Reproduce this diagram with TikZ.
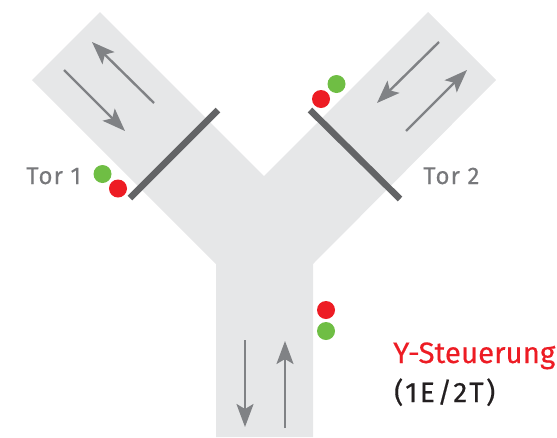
\documentclass[tikz,border=0pt]{standalone}
\usepackage{fontspec}
\setmainfont{Fira Sans}
\newfontfamily\gatefont[LetterSpace=5,FakeBold=0.2]{Fira Sans}
\newfontfamily\titlefont[FakeBold=0.4]{Fira Sans}
\newfontfamily\subfont[LetterSpace=9,FakeBold=0.4]{Fira Sans}
\usetikzlibrary{arrows.meta}
\definecolor{wayfill}{HTML}{E6E7E8}
\definecolor{flowgray}{HTML}{808285}
\definecolor{bargray}{HTML}{636466}
\definecolor{labelgray}{HTML}{77787B}
\definecolor{lampred}{HTML}{ED1C24}
\definecolor{lampgreen}{HTML}{6FBE44}
\definecolor{titleblack}{HTML}{231F20}
\begin{document}
\begin{tikzpicture}[
            x = 1pt,
            y = -1pt,
            > = {Stealth[length=23pt, width=17pt, inset=5pt]}, % arrow head style
            flow/.style = {->, draw = flowgray, line width = 2.4pt},
            bar/.style = {draw = bargray, line width = 6.5pt},
            lamp/.style = {circle, inner sep = 0pt, minimum size = 18pt}
        ]

        \tikzstyle{red lamp}=[lamp, fill = lampred]
        \tikzstyle{green lamp}=[lamp, fill = lampgreen]
        \tikzstyle{gate label}=[text = labelgray, font = \gatefont\fontsize{24}{27}\selectfont, inner sep = 0pt]

        \useasboundingbox (0,0) rectangle (557,437);

        % the Y shaped road
        \fill[wayfill] (216,437) -- (216,264) -- (32,80) -- (100,12) -- (264,176)
            -- (428,12) -- (496,80) -- (313,264) -- (313,437) -- cycle;

        % gates
        \coordinate (b1a) at (130,198);
        \coordinate (b1b) at (218,110);
        \coordinate (b2a) at (310,110);
        \coordinate (b2b) at (400,199);
        \draw[bar] (b1a) -- (b1b);
        \draw[bar] (b2a) -- (b2b);

        % flow arrows
        \coordinate (a1) at (154,103);
        \coordinate (a2) at (92,42);
        \coordinate (a3) at (64,70);
        \coordinate (a4) at (125,131);
        \coordinate (a5) at (439,42);
        \coordinate (a6) at (377,103);
        \coordinate (a7) at (406,131);
        \coordinate (a8) at (467,70);
        \coordinate (a9) at (245,340);
        \coordinate (a10) at (245,427);
        \coordinate (a11) at (285,428);
        \coordinate (a12) at (285,341);
        \draw[flow] (a1) -- (a2);
        \draw[flow] (a3) -- (a4);
        \draw[flow] (a5) -- (a6);
        \draw[flow] (a7) -- (a8);
        \draw[flow] (a9) -- (a10);
        \draw[flow] (a11) -- (a12);

        % signal lamps
        \node[green lamp] (g1) at (102.5,174) {};
        \node[red lamp] (r1) at (118,188.5) {};
        \node[green lamp] (g2) at (336.5,84) {};
        \node[red lamp] (r2) at (321,99) {};
        \node[red lamp] (r3) at (326,310) {};
        \node[green lamp] (g3) at (326,331) {};

        % labels
        \node[gate label, anchor = base west] (t1) at (26,184) {Tor 1};
        \node[gate label, anchor = base west] (t2) at (423,184) {Tor 2};
        \node[anchor = base west, inner sep = 0pt, text = lampred, font = \titlefont\fontsize{29.5}{33}\selectfont] (title) at (393,363) {Y-Steuerung};
        \node[anchor = base west, inner sep = 0pt, text = titleblack, font = \subfont\fontsize{28}{32}\selectfont] (sub) at (394,402) {(1E/2T)};
\end{tikzpicture}
\end{document}
